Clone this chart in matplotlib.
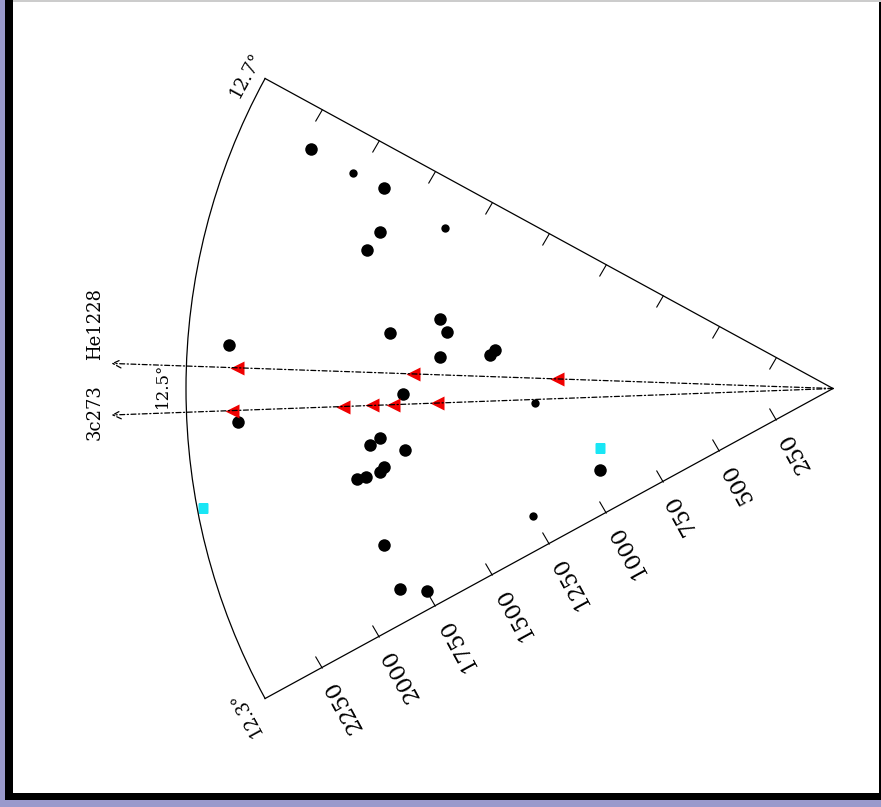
import numpy as np
import matplotlib.pyplot as plt
from matplotlib.patches import Rectangle

# wedge limits (RA in hours, radial distance)
ra_min, ra_max = 12.3, 12.7
r_max = 2500
r_ticks = [250, 500, 750, 1000, 1250, 1500, 1750, 2000, 2250]

# sight lines
ra_3c273 = 12.4853
ra_he1228 = 12.5139

# galaxies (big dots)
dot_ra = [12.672, 12.668, 12.633, 12.616, 12.5285, 12.5495, 12.5696, 12.5577,
          12.5315, 12.5384, 12.5448, 12.4953, 12.4778, 12.4569, 12.4518,
          12.4433, 12.4311, 12.4274, 12.4254, 12.4252, 12.3661, 12.3268,
          12.3152, 12.366]
dot_v = [2220, 1901, 1853, 1877, 2338, 1726, 1543, 1508, 1524, 1332, 1315,
         1663, 2304, 1762, 1803, 1672, 1762, 1781, 1838, 1873, 1838, 1844,
         1754, 954]

# galaxies (small dots)
small_ra = [12.669, 12.657, 12.4812, 12.3397]
small_v = [2034, 1623, 1154, 1260]

# cyan squares
cyan_ra = [12.4007, 12.4251]
cyan_v = [930, 2476]

# absorbers along the two sight lines
tri_he_v = [1068, 1625, 2306]
tri_3c_v = [1532, 1703, 1784, 1896, 2322]

DEG_PER_HOUR = 28.63 / 0.2
HALF = (ra_max - ra_min) / 2 * DEG_PER_HOUR


def th(ra):
    return np.deg2rad((np.asarray(ra, dtype=float) - 12.5) * DEG_PER_HOUR)


fig = plt.figure(figsize=(8.81, 8.07), dpi=100)
W, H = 881, 807

# frame around the picture
fig.add_artist(Rectangle((0, 0), 5 / W, 1, transform=fig.transFigure,
                         color="#9a9acc", lw=0))
fig.add_artist(Rectangle((5 / W, 7 / H), 8 / W, 1, transform=fig.transFigure,
                         color="black", lw=0))
fig.add_artist(Rectangle((0, 0), 1, 7 / H, transform=fig.transFigure,
                         color="#9a9acc", lw=0))
fig.add_artist(Rectangle((5 / W, 7 / H), 1, 7 / H, transform=fig.transFigure,
                         color="black", lw=0))
fig.add_artist(Rectangle((879 / W, 7 / H), 2 / W, 1, transform=fig.transFigure,
                         color="black", lw=0))
fig.add_artist(Rectangle((13 / W, 1 - 1.5 / H), 1, 1.5 / H,
                         transform=fig.transFigure, color="#cccccc", lw=0))

ax = fig.add_axes([186 / W, 95 / H, 647 / W, 647 / H], projection="polar")
ax.set_theta_zero_location("W")
ax.set_theta_direction(-1)
ax.set_thetamin(-HALF)
ax.set_thetamax(HALF)
ax.set_rlim(0, r_max)
ax.grid(False)

ax.set_yticks(r_ticks)
ax.set_yticklabels([])
ax.tick_params(axis="y", left=True, right=True, direction="in", length=10,
               width=0.8, labelleft=False, labelright=False)
ax.set_xticks(th([12.5]))
ax.set_xticklabels([])
ax.tick_params(axis="x", direction="inout", length=10, width=0.8)
for s in ax.spines.values():
    s.set_linewidth(0.9)
    s.set_color("black")

# sight lines with open arrow heads beyond the arc
for ra in [ra_3c273, ra_he1228]:
    ax.annotate("", xy=(th(ra), 2790), xytext=(th(ra), 0),
                arrowprops=dict(arrowstyle="->", ls=(0, (4, 2, 1, 2)), lw=0.9,
                                color="black", shrinkA=0, shrinkB=0,
                                mutation_scale=15),
                annotation_clip=False)

ax.plot(th(dot_ra), dot_v, "o", color="black", ms=9, mec="none")
ax.plot(th(small_ra), small_v, "o", color="black", ms=6, mec="none")
ax.plot(th(cyan_ra), cyan_v, "s", color="#19e6f5", ms=7, mec="none")
ax.plot(th([ra_he1228] * len(tri_he_v)), tri_he_v, "<", color="#f00000",
        ms=10, mec="none")
ax.plot(th([ra_3c273] * len(tri_3c_v)), tri_3c_v, "<", color="#f00000",
        ms=10, mec="none")

font = dict(family="DejaVu Serif", color="black")

# radial labels along the 12.3 edge
for v in r_ticks:
    ax.annotate(str(v), xy=(th(ra_min), v), xytext=(6, -10),
                textcoords="offset points", rotation=118.6,
                rotation_mode="anchor", ha="right", va="center",
                fontsize=16, annotation_clip=False, **font)

ax.annotate("12.3°", xy=(th(ra_min), r_max), xytext=(-14.4, -10.1),
            textcoords="offset points", rotation=118.6,
            rotation_mode="anchor", ha="center", va="center",
            fontsize=13, annotation_clip=False, **font)
ax.annotate("12.7°", xy=(th(ra_max), r_max), xytext=(-13.7, 2.5),
            textcoords="offset points", rotation=61.4,
            rotation_mode="anchor", ha="center", va="center",
            fontsize=13, annotation_clip=False, **font)
ax.annotate("12.5°", xy=(th(12.5), r_max), xytext=(-17, 2),
            textcoords="offset points", rotation=90,
            rotation_mode="anchor", ha="center", va="center",
            fontsize=12, annotation_clip=False, **font)

fig.text(95 / W, 1 - 412 / H, "3c273", rotation=90, ha="center",
         va="center", fontsize=13, **font)
fig.text(95 / W, 1 - 324 / H, "He1228", rotation=90, ha="center",
         va="center", fontsize=13, **font)

fig.savefig("out.png", dpi=100)
